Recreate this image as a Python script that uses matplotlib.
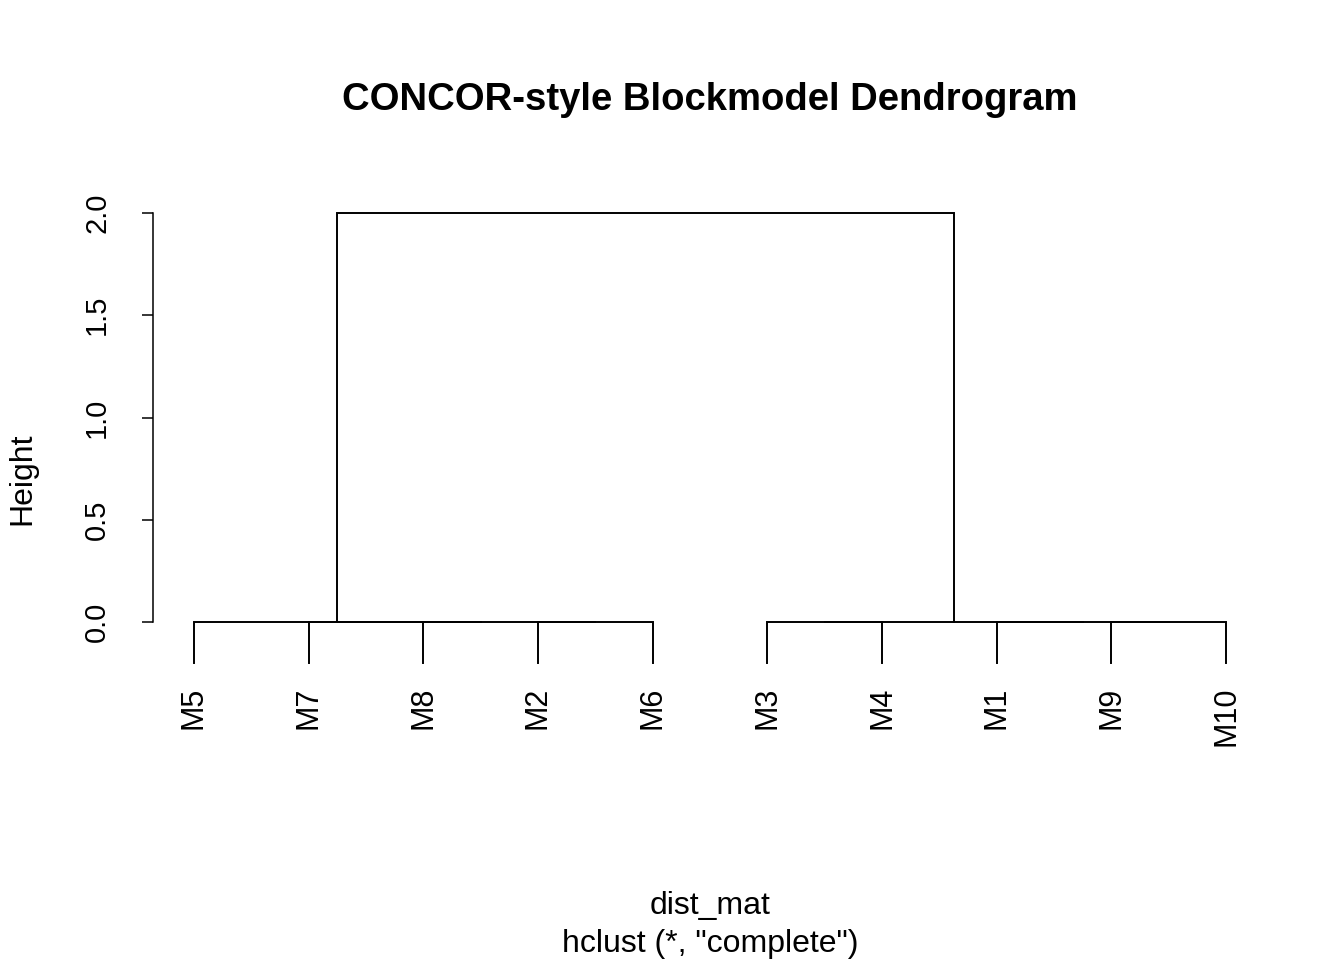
import numpy as np
import matplotlib
matplotlib.use("Agg")
import matplotlib.pyplot as plt
import matplotlib.transforms as mtransforms

plt.rcParams['font.family'] = ['Liberation Sans', 'DejaVu Sans']

# leaf order as drawn, left to right
leaf_labels = ["M5", "M7", "M8", "M2", "M6", "M3", "M4", "M1", "M9", "M10"]

# merge steps (hclust style): a leaf name or an earlier step number (1-based)
merge_a = ["M7", "M2", 1, "M5", "M3", "M9", "M1", 5, 4]
merge_b = ["M8", "M6", 2, 3, "M4", "M10", 6, 7, 8]
merge_height = [0.0, 0.0, 0.0, 0.0, 0.0, 0.0, 0.0, 0.0, 2.0]

y_ticks = [0.0, 0.5, 1.0, 1.5, 2.0]
y_tick_labels = ["0.0", "0.5", "1.0", "1.5", "2.0"]

hang = 0.1 * max(merge_height)

fig = plt.figure(figsize=(13.44, 9.6), dpi=100)
ax = fig.add_axes([152.7 / 1344, 1 - 683.35 / 960, 1114.6 / 1344, 490.8 / 960])

leaf_x = {name: i + 1 for i, name in enumerate(leaf_labels)}
node_x, node_h = [], []


def child_pos(c, h):
    # x position and top height of a child; leaves hang below their merge
    if isinstance(c, str):
        return leaf_x[c], h - hang
    return node_x[c - 1], node_h[c - 1]


for a, b, h in zip(merge_a, merge_b, merge_height):
    xa, ya = child_pos(a, h)
    xb, yb = child_pos(b, h)
    ax.plot([xa, xa, xb, xb], [ya, h, h, yb], color='black', lw=1.4,
            solid_joinstyle='miter')
    node_x.append((xa + xb) / 2)
    node_h.append(h)

# leaf labels below the hanging leaves
lab_trans = mtransforms.offset_copy(ax.transData, fig=fig, y=-24, units='dots')
for name, x in leaf_x.items():
    ax.text(x, -hang, name, rotation=90, ha='center', va='top',
            fontsize=22, transform=lab_trans)

ax.set_xlim(0.64, 10.36)
ax.set_ylim(-0.3, 2.1)
ax.set_xticks([])
ax.set_yticks(y_ticks)
ax.set_yticklabels(y_tick_labels, rotation=90, va='center', ha='center', fontsize=21)
ax.tick_params(axis='y', length=8, width=1.1, pad=32)
for s in ['top', 'right', 'bottom']:
    ax.spines[s].set_visible(False)
ax.spines['left'].set_bounds(0, 2)
ax.spines['left'].set_linewidth(1.1)
ax.patch.set_alpha(0)

fig.text(710 / 1344, 1 - 100 / 960, "CONCOR-style Blockmodel Dendrogram",
         ha='center', va='center', fontsize=27.5, fontweight='bold')
fig.text(710 / 1344, 1 - 906 / 960, "dist_mat", ha='center', va='center', fontsize=23)
fig.text(710 / 1344, 1 - 944 / 960, 'hclust (*, "complete")', ha='center', va='center', fontsize=23)
fig.text(22 / 1344, 1 - 479 / 960, "Height", rotation=90, ha='center', va='center', fontsize=23)

fig.savefig("out.png", dpi=100)
